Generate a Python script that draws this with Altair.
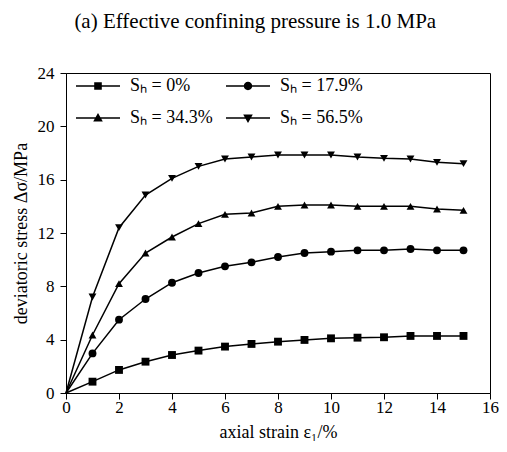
import altair as alt
import pandas as pd

strain = list(range(0, 16))
labels = ["Sₕ = 0%", "Sₕ = 17.9%", "Sₕ = 34.3%", "Sₕ = 56.5%"]
s_0 = [0, 0.85, 1.73, 2.35, 2.85, 3.18, 3.48, 3.68, 3.85, 3.98, 4.1, 4.15, 4.18, 4.28, 4.28, 4.28]
s_179 = [0, 2.97, 5.5, 7.05, 8.27, 9.0, 9.5, 9.8, 10.2, 10.5, 10.6, 10.7, 10.7, 10.8, 10.7, 10.7]
s_343 = [0, 4.35, 8.2, 10.5, 11.7, 12.7, 13.4, 13.5, 14.0, 14.1, 14.1, 14.0, 14.0, 14.0, 13.8, 13.7]
s_565 = [0, 7.2, 12.4, 14.85, 16.1, 17.0, 17.55, 17.7, 17.85, 17.85, 17.85, 17.7, 17.6, 17.55, 17.3, 17.2]

rows = []
for lab, vals in zip(labels, [s_0, s_179, s_343, s_565]):
    for x, y in zip(strain, vals):
        rows.append({"strain": x, "stress": y, "series": lab})
df = pd.DataFrame(rows)

FONT = "Liberation Serif"

xenc = alt.X("strain:Q", scale=alt.Scale(domain=[0, 16], nice=False),
             axis=alt.Axis(values=list(range(0, 17)), title="axial strain ε₁/%",
                           labelExpr="datum.value % 2 === 0 ? datum.label : ''",
                           tickSize={"condition": {"test": "datum.value % 2 === 0", "value": 6}, "value": 3},
                           labelPadding=0, titlePadding=8, labelFlush=False))
yenc = alt.Y("stress:Q", scale=alt.Scale(domain=[0, 24], nice=False),
             axis=alt.Axis(values=list(range(0, 25)), title="deviatoric stress Δσ/MPa",
                           labelExpr="datum.value % 4 === 0 ? datum.label : ''",
                           tickSize={"condition": {"test": "datum.value % 4 === 0", "value": 6}, "value": 3},
                           labelPadding=6, titlePadding=7, labelFlush=False))

shape_rng = ["square", "circle", "triangle-up", "triangle-down"]
# legend entries fill column by column: order so rows read 0% | 17.9%, 34.3% | 56.5%
leg_dom = [labels[0], labels[2], labels[1], labels[3]]
LINE = "M-2.2,-0.075H2.2V0.075H-2.2Z"
leg_rng = [
    LINE + "M-0.38,-0.38H0.38V0.38H-0.38Z",
    LINE + "M0,-0.5L0.48,0.34L-0.48,0.34Z",
    LINE + "M0.42,0A0.42,0.42,0,1,1,-0.42,0A0.42,0.42,0,1,1,0.42,0Z",
    LINE + "M0,0.5L-0.48,-0.34L0.48,-0.34Z",
]

lines = alt.Chart(df).mark_line(color="black", strokeWidth=1.5).encode(
    x=xenc, y=yenc, detail="series:N")

points = alt.Chart(df).transform_filter("datum.strain > 0").mark_point(
    filled=True, color="black", size=62, opacity=1).encode(
    x="strain:Q", y="stress:Q",
    shape=alt.Shape("series:N", scale=alt.Scale(domain=labels, range=shape_rng), legend=None))

legend_layer = alt.Chart(df).mark_point(filled=True, fill="black", size=0, opacity=0).encode(
    x="strain:Q", y="stress:Q",
    shape=alt.Shape("series:N", scale=alt.Scale(domain=leg_dom, range=leg_rng),
                    legend=alt.Legend(title=None, orient="none", legendX=22, legendY=3,
                                      columns=2, symbolSize=400, symbolOpacity=1,
                                      symbolFillColor="black", symbolStrokeWidth=0,
                                      labelFont=FONT, labelFontSize=18,
                                      labelColor="black", labelOffset=22, rowPadding=13,
                                      columnPadding=13, padding=0)))

chart = alt.layer(lines, points, legend_layer).resolve_scale(shape="independent").properties(
    width=424, height=320,
    title=alt.TitleParams("(a) Effective confining pressure is 1.0 MPa", font=FONT, fontSize=21,
                          fontWeight="normal", color="black", offset=32, frame="bounds",
                          anchor="middle"),
    padding={"left": 4, "top": 3, "right": 0, "bottom": 0},
).configure_view(stroke="black", strokeWidth=1).configure_axis(
    labelFont=FONT, titleFont=FONT, labelFontSize=17, titleFontSize=18,
    labelColor="black", titleColor="black", titleFontWeight="normal",
    domainColor="black", tickColor="black", grid=False, domainWidth=1, tickWidth=1
).configure_legend(labelLimit=0)

chart.save("out.html", embed_options={"renderer": "svg", "actions": False})
